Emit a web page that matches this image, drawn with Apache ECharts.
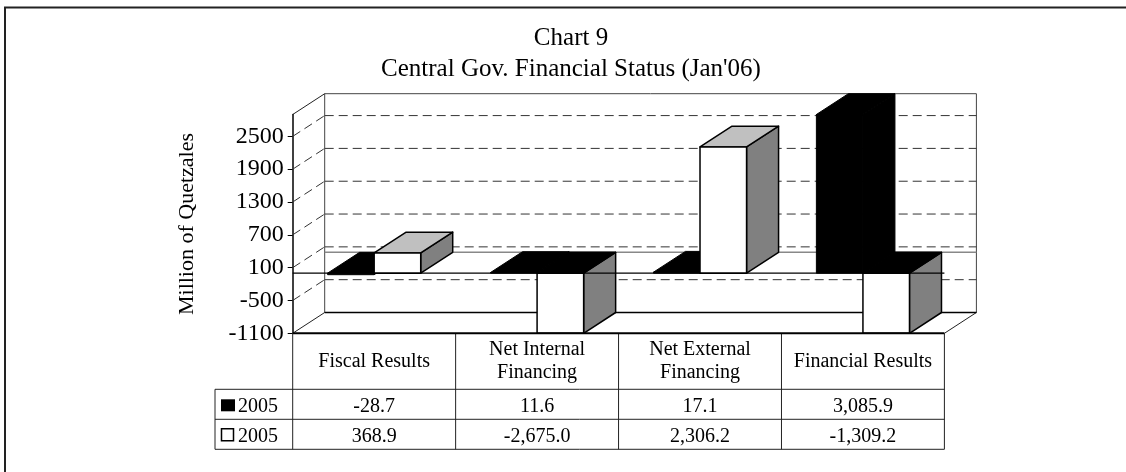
<!DOCTYPE html>
<html><head><meta charset="utf-8">
<script src="https://cdn.jsdelivr.net/npm/echarts@6/dist/echarts.min.js"></script>
<style>html,body{margin:0;padding:0;background:#fff}#c{width:1126px;height:472px}</style>
</head><body><div id="c"></div>
<script>
// ---------- data ----------
const categories = ['Fiscal Results', 'Net Internal\nFinancing', 'Net External\nFinancing', 'Financial Results'];
const seriesNames = ['2005', '2005'];
const valuesBlack = [-28.7, 11.6, 17.1, 3085.9];
const valuesWhite = [368.9, -2675.0, 2306.2, -1309.2];
const yTicks = [-1100, -500, 100, 700, 1300, 1900, 2500];
const yMin = -1100, yMax = 2900, yStep = 600;
const titleText = 'Chart 9';
const subtitleText = "Central Gov. Financial Status (Jan'06)";
const yName = 'Million of Quetzales';

// ---------- layout / style ----------
const FONT = '"Liberation Serif", "Times New Roman", serif';
const DX = 32, DY = -20.8;          // 3D depth offset
const HEADER_H = 56, ROW_H = 30;    // data table rows
const ROWLABEL_LEFT = 215;
const TABLE_FS = 20;

const fmt = v => v.toLocaleString('en-US', {minimumFractionDigits: 1, maximumFractionDigits: 1});

function frameItem(params, api) {
  const n = categories.length;
  const catW = api.size([1, 0])[0];
  const xL = api.coord([0, 0])[0] - catW / 2;
  const xR = api.coord([n - 1, 0])[0] + catW / 2;
  const y = v => api.coord([0, v])[1];
  const yT = y(yMax), yB = y(yMin), y0 = y(0);
  const dash = {stroke: '#333', lineWidth: 1, lineDash: [9, 5]};
  const ch = [];
  ch.push({type: 'polygon', shape: {points: [[xL + DX, yT + DY], [xR + DX, yT + DY], [xR + DX, yB + DY], [xL + DX, yB + DY]]},
    style: {fill: '#fff', stroke: '#444', lineWidth: 1}});
  yTicks.forEach(v => {
    if (v === yMin) return;
    const yy = y(v);
    ch.push({type: 'line', shape: {x1: xL + DX, y1: yy + DY, x2: xR + DX, y2: yy + DY}, style: dash});
    ch.push({type: 'line', shape: {x1: xL, y1: yy, x2: xL + DX, y2: yy + DY}, style: dash});
  });
  ch.push({type: 'line', shape: {x1: xL + DX, y1: y0 + DY, x2: xR + DX, y2: y0 + DY}, style: {stroke: '#888', lineWidth: 1.5}});
  const solid = {stroke: '#222', lineWidth: 1};
  ch.push({type: 'line', shape: {x1: xL, y1: yT, x2: xL + DX, y2: yT + DY}, style: solid});
  ch.push({type: 'line', shape: {x1: xL, y1: yB, x2: xL + DX, y2: yB + DY}, style: solid});
  ch.push({type: 'line', shape: {x1: xR, y1: yB, x2: xR + DX, y2: yB + DY}, style: solid});
  ch.push({type: 'line', shape: {x1: xL + DX, y1: yB + DY, x2: xR + DX, y2: yB + DY}, style: {stroke: '#000', lineWidth: 1.5}});
  return {type: 'group', children: ch};
}

function barsItem(params, api) {
  const i = api.value(0);
  const vals = [api.value(1), api.value(2)];
  const catW = api.size([1, 0])[0];
  const w = catW / 3.5;
  const start = api.coord([i, 0])[0] - catW / 2;
  const clamp = v => Math.max(yMin, Math.min(yMax, v));
  const y0 = api.coord([i, 0])[1];
  const ch = [];
  vals.forEach((v, k) => {
    const x = start + 0.75 * w + k * w;
    const y1 = api.coord([i, clamp(v)])[1];
    const yTop = Math.min(y0, y1), yBot = Math.max(y0, y1);
    const black = k === 0;
    const sty = fill => ({fill, stroke: '#000', lineWidth: black ? 1 : 1.5, lineJoin: 'round'});
    const topFill = (black || v < 0) ? '#000' : '#c0c0c0';
    const sideFill = black ? '#000' : '#808080';
    const frontFill = black ? '#000' : '#fff';
    ch.push({type: 'polygon', shape: {points: [[x + w, yTop], [x + w + DX, yTop + DY], [x + w + DX, yBot + DY], [x + w, yBot]]}, style: sty(sideFill)});
    ch.push({type: 'polygon', shape: {points: [[x, yTop], [x + w, yTop], [x + w + DX, yTop + DY], [x + DX, yTop + DY]]}, style: sty(topFill)});
    ch.push({type: 'rect', shape: {x, y: yTop, width: w, height: yBot - yTop}, style: sty(frontFill)});
  });
  return {type: 'group', children: ch};
}

function foreItem(params, api) {
  const n = categories.length;
  const catW = api.size([1, 0])[0];
  const xL = api.coord([0, 0])[0] - catW / 2;
  const xR = api.coord([n - 1, 0])[0] + catW / 2;
  const y0 = api.coord([0, 0])[1];
  const yB = api.coord([0, yMin])[1];
  const yH = yB + HEADER_H, yR1 = yH + ROW_H, yR2 = yR1 + ROW_H;
  const ch = [];
  const tl = {stroke: '#222', lineWidth: 1};
  ch.push({type: 'line', shape: {x1: xL, y1: y0, x2: xR, y2: y0}, style: {stroke: '#000', lineWidth: 1.2}});
  // table
  for (let k = 0; k <= n; k++) {
    const xx = xL + k * catW;
    ch.push({type: 'line', shape: {x1: xx, y1: yB, x2: xx, y2: yR2}, style: tl});
  }
  [yH, yR1, yR2].forEach(yy => ch.push({type: 'line', shape: {x1: ROWLABEL_LEFT, y1: yy, x2: xR, y2: yy}, style: tl}));
  ch.push({type: 'line', shape: {x1: ROWLABEL_LEFT, y1: yH, x2: ROWLABEL_LEFT, y2: yR2}, style: tl});
  ch.push({type: 'line', shape: {x1: xL, y1: yB, x2: xR, y2: yB}, style: {stroke: '#000', lineWidth: 2}});
  // row labels (legend keys)
  const rows = [yH + ROW_H / 2, yR1 + ROW_H / 2];
  ch.push({type: 'rect', shape: {x: ROWLABEL_LEFT + 6, y: rows[0] - 5, width: 14, height: 12}, style: {fill: '#000'}});
  ch.push({type: 'rect', shape: {x: ROWLABEL_LEFT + 6.5, y: rows[1] - 5.5, width: 12, height: 12}, style: {fill: '#fff', stroke: '#000', lineWidth: 1.5}});
  rows.forEach((ry, k) => ch.push({type: 'text', x: ROWLABEL_LEFT + 23, y: ry + 2,
    style: {text: seriesNames[k], fontSize: TABLE_FS, fontFamily: FONT, fill: '#000', align: 'left', verticalAlign: 'middle'}}));
  return {type: 'group', children: ch};
}

const chart = echarts.init(document.getElementById('c'), null, {renderer: 'canvas'});
const rowAxis = (vals, margin) => ({
  type: 'category', data: categories, gridIndex: 0, position: 'bottom',
  axisLine: {show: false}, axisTick: {show: false}, splitLine: {show: false},
  axisLabel: {interval: 0, margin, verticalAlign: 'middle', fontSize: TABLE_FS, fontFamily: FONT, color: '#000',
    formatter: (val, idx) => fmt(vals[idx])}
});
chart.setOption({
  animation: false,
  backgroundColor: '#fff',
  grid: {left: 292.7, right: 181.6, top: 114.5, bottom: 138.7, containLabel: false},
  xAxis: [
    {type: 'category', data: categories, position: 'bottom',
      axisLine: {show: false}, axisTick: {show: false}, splitLine: {show: false},
      axisLabel: {interval: 0, margin: 28, verticalAlign: 'middle', align: 'center', lineHeight: 23,
        fontSize: TABLE_FS, fontFamily: FONT, color: '#000'}},
    rowAxis(valuesBlack, HEADER_H + ROW_H / 2 + 2),
    rowAxis(valuesWhite, HEADER_H + ROW_H * 1.5 + 2)
  ],
  yAxis: {
    type: 'value', min: yMin, max: yMax, interval: yStep,
    axisLine: {show: true, lineStyle: {color: '#000', width: 1.5}},
    axisTick: {show: true, length: 5, customValues: yTicks, lineStyle: {color: '#000', width: 1}},
    axisLabel: {customValues: yTicks, margin: 9, fontSize: 24, fontFamily: FONT, color: '#000',
      formatter: v => (yTicks.indexOf(v) >= 0 ? String(v) : '')},
    splitLine: {show: false}
  },
  graphic: {elements: [
    {type: 'rect', silent: true, shape: {x: 5, y: 7.5, width: 1300, height: 700}, style: {fill: 'none', stroke: '#222', lineWidth: 2}},
    {type: 'text', x: 571, y: 38, style: {text: titleText, fontSize: 25, fontFamily: FONT, fill: '#000', align: 'center', verticalAlign: 'middle'}},
    {type: 'text', x: 571, y: 69, style: {text: subtitleText, fontSize: 25, fontFamily: FONT, fill: '#000', align: 'center', verticalAlign: 'middle'}},
    {type: 'text', x: 187, y: 224, rotation: Math.PI / 2, style: {text: yName, fontSize: 22, fontFamily: FONT, fill: '#000', align: 'center', verticalAlign: 'middle'}}
  ]},
  series: [
    {type: 'custom', name: 'frame', silent: true, z: 1, clip: false, renderItem: frameItem, data: [[0, 0]], encode: {x: 0, y: 1}},
    {type: 'custom', name: 'bars', silent: true, z: 2, clip: false, renderItem: barsItem,
      data: categories.map((c, i) => [i, valuesBlack[i], valuesWhite[i]]), encode: {x: 0, y: [1, 2]}},
    {type: 'custom', name: 'front', silent: true, z: 3, clip: false, renderItem: foreItem, data: [[0, 0]], encode: {x: 0, y: 1}}
  ]
});
</script></body></html>
